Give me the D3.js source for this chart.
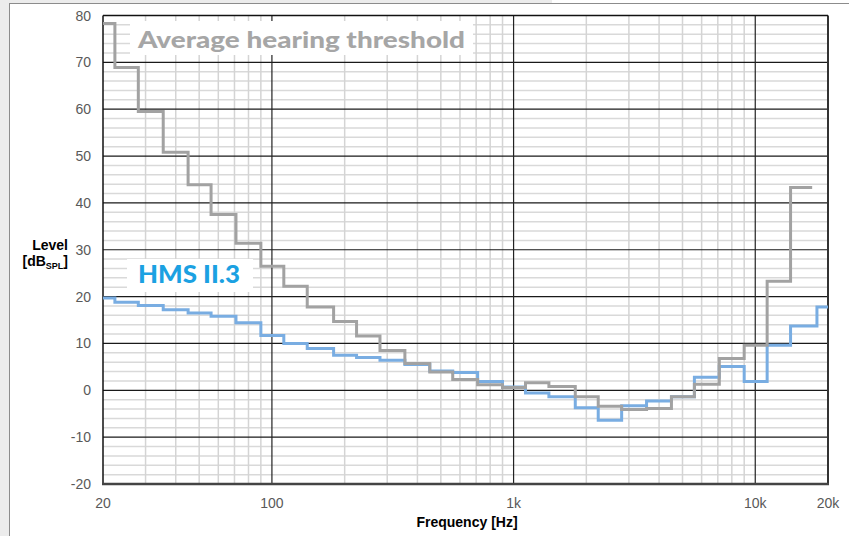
<!DOCTYPE html>
<html>
<head>
<meta charset="utf-8">
<script src="https://cdn.jsdelivr.net/npm/d3@7"></script>
<style>
    body{ margin:0; background:#fff; }
    svg{ display:block; }
</style>
</head>
<body>
<div id="chart"></div>
<script>
// third-octave band edges (Hz), band centres 20 Hz .. 20 kHz
var bandEdges = [20, 22.4, 28, 35.5, 45, 56, 71, 90, 112, 140, 180, 224, 280, 355, 450, 560,
                 710, 900, 1120, 1400, 1800, 2240, 2800, 3550, 4500, 5600, 7100, 9000, 11200, 14000, 18000];

// average hearing threshold, bands 20 Hz .. 16 kHz
var thresholdLevels = [78.3, 68.9, 59.5, 50.8, 43.9, 37.5, 31.4, 26.5, 22.2, 17.8, 14.7, 11.6, 8.5, 5.7, 3.9, 2.3,
                       1.2, 0.6, 1.6, 0.8, -1.4, -3.4, -4.1, -3.9, -1.4, 1.3, 6.8, 9.6, 23.3, 43.3];
var thresholdEnd = 17200;

// HMS II.3 noise floor, bands 20 Hz .. 20 kHz
var hmsLevels = [19.7, 18.8, 18.1, 17.2, 16.5, 15.8, 14.4, 11.7, 10.0, 8.9, 7.5, 7.0, 6.4, 5.5, 4.1, 3.8,
                 1.9, 0.7, -0.6, -1.4, -3.7, -6.4, -3.3, -2.3, -1.4, 2.8, 5.1, 1.9, 9.6, 13.7, 17.8];
var hmsEnd = 20000;

var xTicks = [20, 100, 1000, 10000, 20000];
var xTickLabels = ["20", "100", "1k", "10k", "20k"];
var yTicks = [-20, -10, 0, 10, 20, 30, 40, 50, 60, 70, 80];

var W = 849, H = 536;
var plot = {x0: 103, x1: 828, y0: 15.5, y1: 484};

var svg = d3.select("#chart").append("svg")
    .attr("width", W)
    .attr("height", H);

// window frame
svg.append("rect").attr("x",0).attr("y",0).attr("width",9).attr("height",H).style("fill","#ececec");
svg.append("rect").attr("x",0).attr("y",0).attr("width",552).attr("height",3).style("fill","#ececec");
svg.append("line").attr("x1",9.5).attr("x2",9.5).attr("y1",3).attr("y2",H).style("stroke","#8c8c8c");
svg.append("line").attr("x1",9).attr("x2",W).attr("y1",3.5).attr("y2",3.5).style("stroke","#8c8c8c");

var x = d3.scaleLog().domain([20, 20000]).range([plot.x0, plot.x1]);
var y = d3.scaleLinear().domain([-20, 80]).range([plot.y1, plot.y0]);

var grid = svg.append("g").attr("class","grid");

// minor horizontal lines every 2 dB
d3.range(-20, 81, 2).filter(function(v){ return v % 10 != 0; }).forEach(function(v){
    grid.append("line")
        .attr("x1", plot.x0).attr("x2", plot.x1)
        .attr("y1", y(v)).attr("y2", y(v))
        .style("stroke","#d9d9d9")
        .style("stroke-width",1.5);
});

// minor vertical lines
var minorFreqs = [];
[10, 100, 1000].forEach(function(dec){
    for(var k = 2; k <= 9; k++){
        var f = k*dec;
        if(f > 20 && f < 20000) minorFreqs.push(f);
    }
});
minorFreqs.forEach(function(f){
    grid.append("line")
        .attr("x1", x(f)).attr("x2", x(f))
        .attr("y1", plot.y0).attr("y2", plot.y1)
        .style("stroke","#d4d4d4")
        .style("stroke-width",1.5);
});

// major lines
yTicks.forEach(function(v){
    grid.append("line")
        .attr("x1", plot.x0).attr("x2", plot.x1)
        .attr("y1", y(v)).attr("y2", y(v))
        .style("stroke","#1a1a1a")
        .style("stroke-width",1.2);
});
[100, 1000, 10000].forEach(function(f){
    grid.append("line")
        .attr("x1", x(f)).attr("x2", x(f))
        .attr("y1", plot.y0).attr("y2", plot.y1)
        .style("stroke","#222")
        .style("stroke-width",1.2);
});

// plot border
grid.append("line").attr("x1",plot.x0).attr("x2",plot.x0).attr("y1",plot.y0).attr("y2",plot.y1)
    .style("stroke","#111").style("stroke-width",1.5);
grid.append("line").attr("x1",plot.x1).attr("x2",plot.x1).attr("y1",plot.y0).attr("y2",plot.y1)
    .style("stroke","#333").style("stroke-width",2);
grid.append("line").attr("x1",plot.x0).attr("x2",plot.x1).attr("y1",plot.y0).attr("y2",plot.y0)
    .style("stroke","#111").style("stroke-width",1.5);
grid.append("line").attr("x1",plot.x0-1).attr("x2",plot.x1+1).attr("y1",plot.y1).attr("y2",plot.y1)
    .style("stroke","#444").style("stroke-width",2.5);

// legend boxes (drawn over grid, under lines)
svg.append("rect").attr("x",130).attr("y",21).attr("width",343).attr("height",34).style("fill","#fff");
svg.append("rect").attr("x",127).attr("y",259).attr("width",126).attr("height",33).style("fill","#fff");

svg.append("text")
    .attr("x",138).attr("y",47.5)
    .attr("textLength",327)
    .attr("lengthAdjust","spacingAndGlyphs")
    .text("Average hearing threshold")
    .style("font-family","Lato, 'Open Sans', sans-serif")
    .style("font-weight",900)
    .style("font-size","23px")
    .style("fill","#a6a6a6");

svg.append("text")
    .attr("x",138).attr("y",283)
    .attr("textLength",102)
    .attr("lengthAdjust","spacingAndGlyphs")
    .text("HMS II.3")
    .style("font-family","Lato, 'Open Sans', sans-serif")
    .style("font-weight",900)
    .style("font-size","24px")
    .style("fill","#1ba1e2");

// step curves
function stepPoints(levels, end){
    var pts = levels.map(function(v,i){ return [bandEdges[i], v]; });
    pts.push([end, levels[levels.length-1]]);
    return pts;
}

var line = d3.line()
    .x(function(d){ return x(d[0]); })
    .y(function(d){ return y(d[1]); })
    .curve(d3.curveStepAfter);

svg.append("path")
    .datum(stepPoints(hmsLevels, hmsEnd))
    .attr("d", line)
    .style("fill","none")
    .style("stroke","#79ade2")
    .style("stroke-width",3);

svg.append("path")
    .datum(stepPoints(thresholdLevels, thresholdEnd))
    .attr("d", line)
    .style("fill","none")
    .style("stroke","#a2a2a2")
    .style("stroke-width",3);

// tick labels
var tickFont = "'Liberation Sans', Arial, sans-serif";

svg.selectAll(".ytick")
    .data(yTicks)
    .enter()
    .append("text")
    .attr("class","ytick")
    .attr("x",91)
    .attr("y",function(d){ return y(d) + 5; })
    .attr("text-anchor","end")
    .text(function(d){ return d; })
    .style("font-family",tickFont)
    .style("font-size","14px")
    .style("fill","#595959");

svg.selectAll(".xtick")
    .data(xTicks)
    .enter()
    .append("text")
    .attr("class","xtick")
    .attr("x",function(d){ return x(d); })
    .attr("y",508)
    .attr("text-anchor","middle")
    .text(function(d,i){ return xTickLabels[i]; })
    .style("font-family",tickFont)
    .style("font-size","14px")
    .style("fill","#595959");

// axis titles
svg.append("text")
    .attr("x",467).attr("y",527)
    .attr("text-anchor","middle")
    .text("Frequency [Hz]")
    .style("font-family",tickFont)
    .style("font-weight","bold")
    .style("font-size","14px")
    .style("fill","#000");

var yTitle = svg.append("g")
    .style("font-family",tickFont)
    .style("font-weight","bold")
    .style("fill","#000");

yTitle.append("text")
    .attr("x",68).attr("y",250)
    .attr("text-anchor","end")
    .style("font-size","14px")
    .text("Level");

var unit = yTitle.append("text")
    .attr("x",68).attr("y",266)
    .attr("text-anchor","end")
    .style("font-size","14px");
unit.append("tspan").text("[dB");
unit.append("tspan").attr("dy",3).style("font-size","9px").text("SPL");
unit.append("tspan").attr("dy",-3).text("]");
</script>
</body>
</html>
